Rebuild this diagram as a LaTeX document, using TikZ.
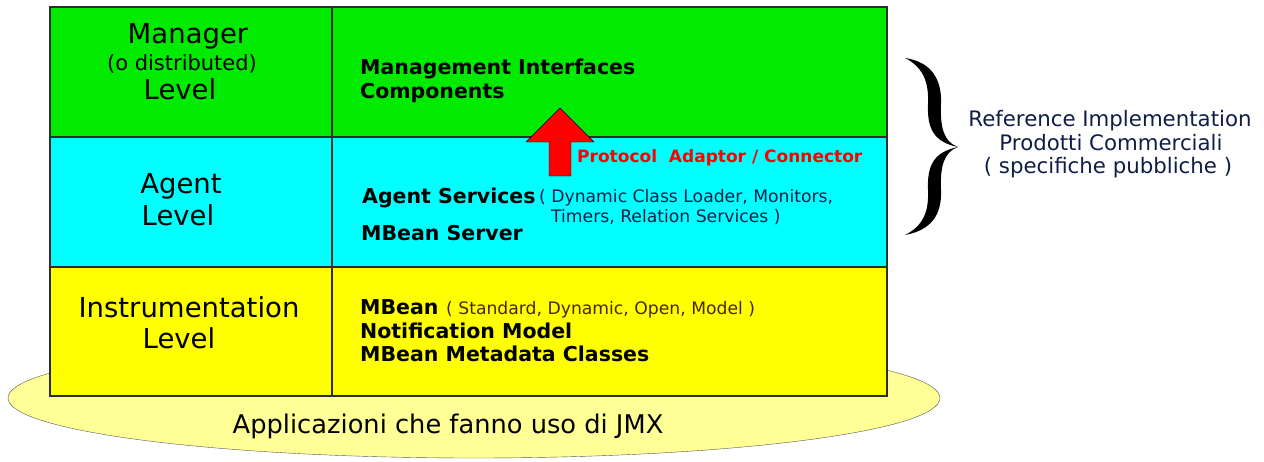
\documentclass[tikz,border=0pt]{standalone}
\usepackage{fontspec}
\setmainfont{DejaVu Sans}
\usetikzlibrary{positioning}
\definecolor{mgrgreen}{RGB}{0,235,0}
\definecolor{agtcyan}{RGB}{0,255,255}
\definecolor{insyellow}{RGB}{255,255,0}
\definecolor{appyellow}{RGB}{255,255,150}
\definecolor{subtext}{RGB}{15,30,70}
\definecolor{kindtext}{RGB}{70,40,0}
\definecolor{frame}{RGB}{45,45,45}
\begin{document}
\begin{tikzpicture}[x=1pt,y=-1pt,inner sep=0pt,
  big/.style={font=\fontsize{27.5}{30}\selectfont, anchor=base},
  small/.style={font=\fontsize{21}{24}\selectfont, anchor=base},
  item/.style={font=\bfseries\fontsize{20.5}{23}\selectfont, anchor=base west},
  note/.style={font=\fontsize{17.2}{20}\selectfont, text=subtext, anchor=base west},
  proto/.style={font=\bfseries\fontsize{17}{20}\selectfont, text=red, anchor=base west},
  side/.style={font=\fontsize{21.3}{24}\selectfont, text=subtext, anchor=base}]
\useasboundingbox (0,0) rectangle (1264,461);
% applicazioni sotto
\filldraw[fill=appyellow, draw=frame!80] (474,398) ellipse [x radius=466, y radius=60];
\node[font=\fontsize{25.7}{28}\selectfont, anchor=base] (apps) at (448,433) {Applicazioni che fanno uso di JMX};
% i tre livelli
\filldraw[fill=mgrgreen, draw=frame, line width=1.2pt] (50,7) rectangle (887,137);
\filldraw[fill=agtcyan, draw=frame, line width=1.2pt] (50,137) rectangle (887,267);
\filldraw[fill=insyellow, draw=frame, line width=1.2pt] (50,267) rectangle (887,396);
\draw[frame, line width=1.2pt] (332,7) -- (332,396);
% colonna sinistra
\node[big] (mgr) at (188,43) {Manager};
\node[small] (distr) at (182,70) {(o distributed)};
\node[big] (mgrlvl) at (180,99) {Level};
\node[big] (agt) at (181,193) {Agent};
\node[big] (agtlvl) at (178,225) {Level};
\node[big] (ins) at (189,317) {Instrumentation};
\node[big] (inslvl) at (179,348) {Level};
% colonna destra
\node[item] (mgmt) at (360,74) {Management Interfaces};
\node[item] (comp) at (360,98) {Components};
\node[item] (services) at (362,203) {Agent Services};
\node[note] (svclist) at (539,202) {( Dynamic Class Loader, Monitors,};
\node[note] (svclist2) at (551,222) {Timers, Relation Services )};
\node[item] (server) at (361,240) {MBean Server};
\node[item] (mbean) at (360,314) {MBean};
\node[note, text=kindtext] (kinds) at (446,314) {( Standard, Dynamic, Open, Model )};
\node[item] (notif) at (360,338) {Notification Model};
\node[item] (meta) at (360,361) {MBean Metadata Classes};
% adaptor
\filldraw[fill=red, draw=black] (549,176) -- (549,142) -- (526,142) -- (560,108)
  -- (594,142) -- (571,142) -- (571,176) -- cycle;
\node[proto] (adaptor) at (577,162) {Protocol\ \ Adaptor / Connector};
% graffa
\fill (905,58) .. controls (932,62) and (942,80) .. (941,104)
  .. controls (940,128) and (944,142) .. (958,147)
  .. controls (944,152) and (940,166) .. (941,190)
  .. controls (942,214) and (932,230) .. (905,235)
  .. controls (923,226) and (929,212) .. (928,190)
  .. controls (927,165) and (934,152) .. (958,147)
  .. controls (934,142) and (927,129) .. (928,104)
  .. controls (929,82) and (923,67) .. cycle;
\node[side] (refimpl) at (1110,126) {Reference Implementation};
\node[side] (prod) at (1111,150) {Prodotti Commerciali};
\node[side] (spec) at (1108,173) {( specifiche pubbliche )};
\end{tikzpicture}
\end{document}
